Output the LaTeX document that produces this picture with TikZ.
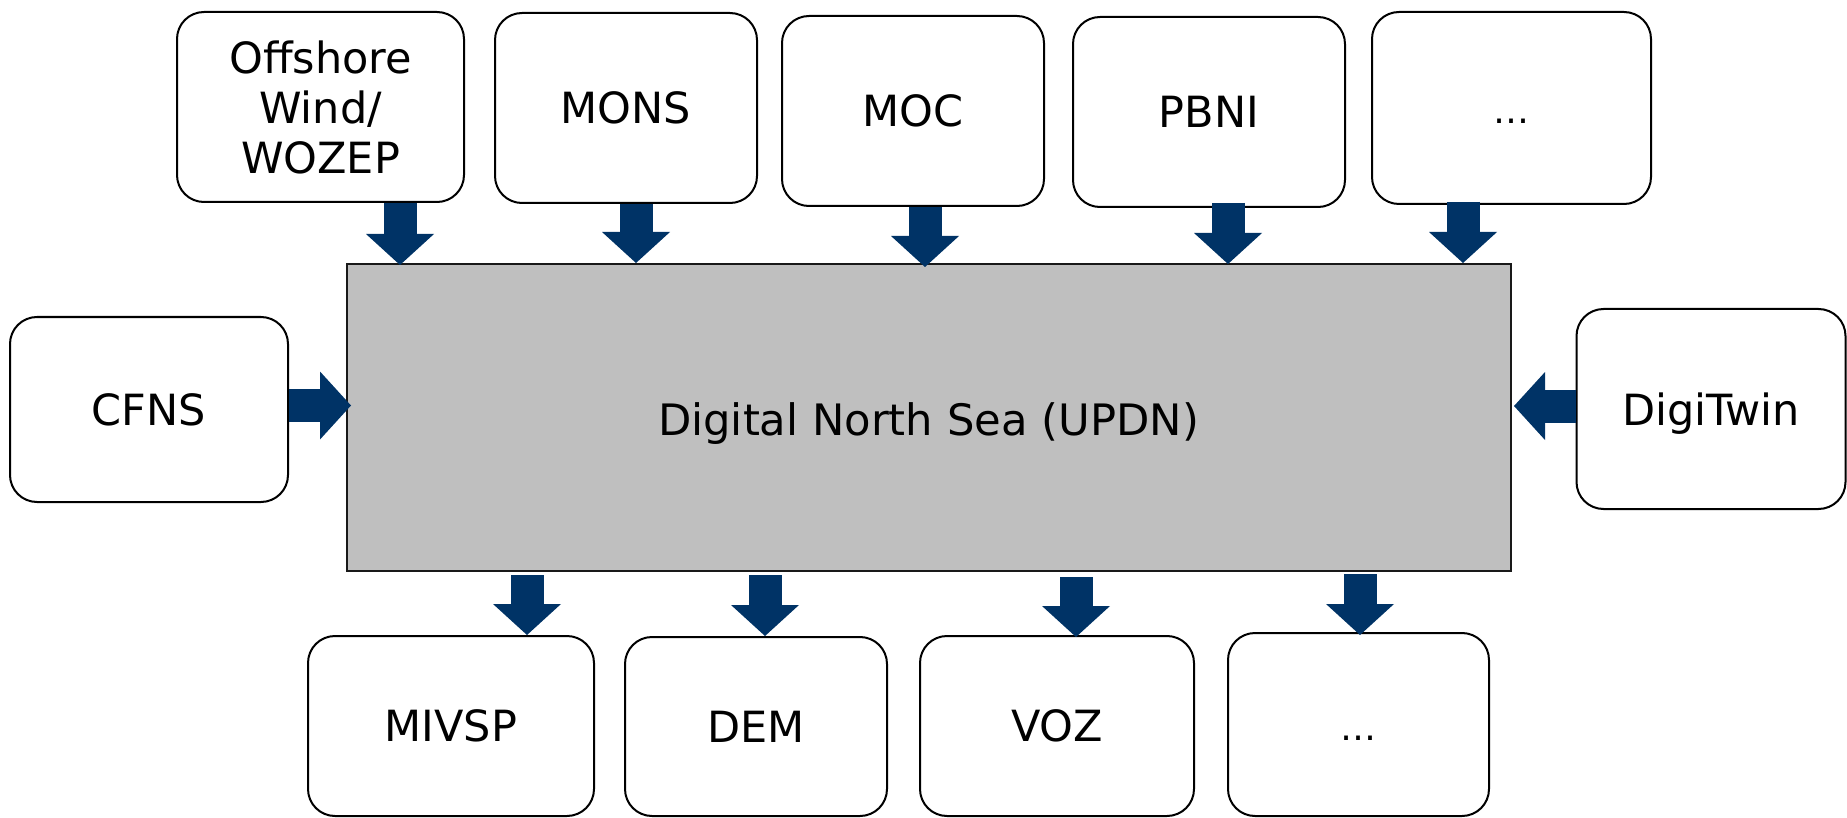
\documentclass[tikz,border=0pt]{standalone}
\usepackage{fontspec}
\setmainfont{DejaVu Sans}
\usetikzlibrary{arrows.meta,calc}
\definecolor{navy}{RGB}{0,51,102}
\definecolor{maingray}{RGB}{191,191,191}
\begin{document}
\begin{tikzpicture}[x=1pt,y=-1pt,
  box/.style={draw=black,line width=2pt,rounded corners=27pt,fill=white,
    align=center,inner sep=0pt,text depth=0pt,font=\fontsize{43}{50}\selectfont},
  mainbox/.style={draw=black!90,line width=2pt,fill=maingray,inner sep=0pt},
  maintext/.style={font=\fontsize{43.3}{50}\selectfont,inner sep=0pt,anchor=base},
  dotsfont/.style={font=\fontsize{36}{42}\selectfont,text height=31pt,text depth=0pt},
  blk/.style={draw=navy,line width=33pt,
    -{Triangle[width=68pt,length=31pt,line width=0pt,fill=navy]}}]
\useasboundingbox (0,0) rectangle (1847,818);

\node[mainbox,minimum width=1164pt,minimum height=307pt] (main) at (929,417.5) {};
\node[maintext] (mainlabel) at (928.5,435) {Digital North Sea (UPDN)};

\node[box,minimum width=287pt,minimum height=190pt] (off) at (320.5,107) {Offshore\\Wind/\\WOZEP};
\node[box,minimum width=262pt,minimum height=190pt] (mons) at (626,108) {MONS};
\node[box,minimum width=262pt,minimum height=190pt] (moc) at (913,111) {MOC};
\node[box,minimum width=272pt,minimum height=190pt] (pbni) at (1209,112) {PBNI};
\node[box,dotsfont,minimum width=279pt,minimum height=192pt] (dtop) at (1511.5,108) {\ldots};

\node[box,minimum width=278pt,minimum height=185pt] (cfns) at (149,409.5) {CFNS};
\node[box,minimum width=269pt,minimum height=200pt] (digi) at (1711,409) {DigiTwin};

\node[box,minimum width=286pt,minimum height=180pt] (mivsp) at (451,726) {MIVSP};
\node[box,minimum width=262pt,minimum height=179pt] (dem) at (756,726.5) {DEM};
\node[box,minimum width=274pt,minimum height=180pt] (voz) at (1057,726) {VOZ};
\node[box,dotsfont,minimum width=261pt,minimum height=183pt] (dbot) at (1358.5,724.5) {\ldots};

% top arrows
\coordinate (s1) at ($(off.south)+(79.5,0)$);
\coordinate (s2) at ($(mons.south)+(10,0)$);
\coordinate (s3) at ($(moc.south)+(12,0)$);
\coordinate (s4) at ($(pbni.south)+(19,-5)$);
\coordinate (s5) at ($(dtop.south)+(-48.5,-3)$);
\draw[blk] (s1) -- ($(s1 |- main.north)+(0,2)$);
\draw[blk] (s2) -- ($(s2 |- main.north)+(0,0)$);
\draw[blk] (s3) -- ($(s3 |- main.north)+(0,4)$);
\draw[blk] (s4) -- ($(s4 |- main.north)+(0,1)$);
\draw[blk] (s5) -- ($(s5 |- main.north)+(0,0)$);

% side arrows
\coordinate (c1) at ($(cfns.east)+(0,-4)$);
\coordinate (d1) at ($(digi.west)+(0,-3)$);
\draw[blk] (c1) -- ($(c1 -| main.west)+(5,0)$);
\draw[blk] (d1) -- ($(d1 -| main.east)+(2,0)$);

% bottom arrows
\coordinate (b1) at ($(mivsp.north)+(76,0)$);
\coordinate (b2) at ($(dem.north)+(9,0)$);
\coordinate (b3) at ($(voz.north)+(19,2)$);
\coordinate (b4) at ($(dbot.north)+(1.5,3)$);
\draw[blk] ($(b1 |- main.south)+(0,3)$) -- (b1);
\draw[blk] ($(b2 |- main.south)+(0,3)$) -- (b2);
\draw[blk] ($(b3 |- main.south)+(0,5)$) -- (b3);
\draw[blk] ($(b4 |- main.south)+(0,2)$) -- (b4);
\end{tikzpicture}
\end{document}
